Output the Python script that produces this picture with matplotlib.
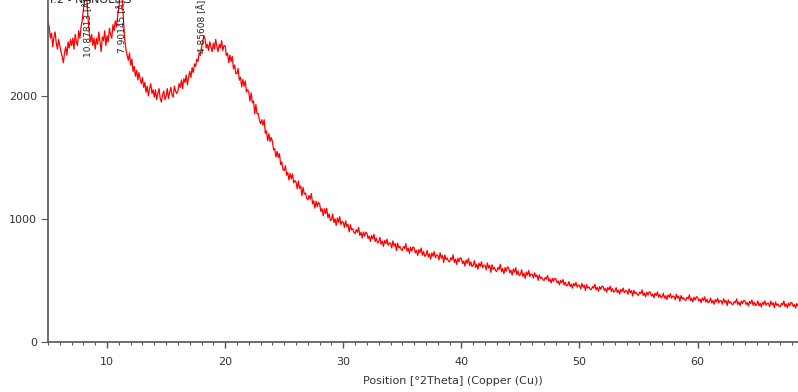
import numpy as np
import matplotlib
matplotlib.use('Agg')
import matplotlib.pyplot as plt
from matplotlib.ticker import MultipleLocator

# counts, one row per degree (step 0.1 deg, 5.0 .. 68.5)
counts = [
    2600, 2560, 2470, 2510, 2400, 2480, 2520, 2430, 2380, 2460,  # 5
    2410, 2360, 2320, 2270, 2350, 2400, 2330, 2440, 2390, 2460,  # 6
    2410, 2470, 2380, 2500, 2440, 2410, 2530, 2470, 2560, 2620,  # 7
    2700, 2790, 2870, 2760, 2620, 2510, 2440, 2500, 2410, 2470,  # 8
    2380, 2470, 2420, 2520, 2440, 2360, 2480, 2450, 2530, 2410,  # 9
    2490, 2440, 2550, 2500, 2470, 2580, 2530, 2610, 2560, 2650,  # 10
    2720, 2810, 2870, 2780, 2600, 2450, 2380, 2330, 2290, 2350,  # 11
    2250, 2300, 2200, 2240, 2160, 2210, 2130, 2190, 2140, 2100,  # 12
    2150, 2070, 2110, 2030, 2080, 2000, 2060, 2100, 2020, 2050,  # 13
    1990, 2050, 1970, 2020, 2060, 1980, 1950, 2010, 2040, 1970,  # 14
    2000, 2060, 1980, 2030, 2070, 2010, 1990, 2080, 2040, 2020,  # 15
    2040, 2100, 2070, 2130, 2060, 2140, 2110, 2170, 2090, 2150,  # 16
    2200, 2150, 2230, 2190, 2260, 2240, 2300, 2280, 2350, 2330,  # 17
    2400, 2440, 2490, 2460, 2390, 2420, 2370, 2440, 2400, 2360,  # 18
    2430, 2380, 2460, 2400, 2360, 2420, 2390, 2450, 2370, 2410,  # 19
    2406, 2329, 2348, 2271, 2332, 2279, 2322, 2221, 2252, 2181,  # 20
    2182, 2224, 2128, 2152, 2074, 2134, 2080, 2122, 2032, 2050,  # 21
    2032, 1957, 2026, 1945, 1960, 1855, 1930, 1855, 1858, 1801,  # 22
    1774, 1807, 1762, 1807, 1696, 1717, 1636, 1693, 1630, 1663,  # 23
    1630, 1561, 1572, 1503, 1549, 1500, 1531, 1442, 1463, 1399,  # 24
    1395, 1433, 1356, 1379, 1317, 1370, 1328, 1366, 1294, 1312,  # 25
    1300, 1245, 1309, 1249, 1268, 1188, 1257, 1202, 1211, 1171,  # 26
    1155, 1191, 1161, 1207, 1122, 1148, 1088, 1144, 1099, 1135,  # 27
    1120, 1062, 1084, 1026, 1083, 1045, 1087, 1009, 1041, 988,  # 28
    995, 1041, 971, 1002, 947, 1008, 973, 1019, 954, 980,  # 29
    973, 931, 985, 939, 957, 895, 953, 911, 921, 891,  # 30
    881, 913, 892, 932, 867, 891, 846, 894, 861, 893,  # 31
    884, 841, 861, 818, 866, 839, 875, 816, 844, 805,  # 32
    813, 850, 795, 820, 777, 826, 799, 836, 785, 806,  # 33
    803, 764, 822, 779, 800, 742, 803, 764, 777, 751,  # 34
    744, 777, 759, 800, 738, 763, 720, 770, 739, 773,  # 35
    766, 724, 745, 703, 752, 726, 764, 705, 735, 696,  # 36
    706, 744, 690, 716, 674, 724, 697, 735, 685, 707,  # 37
    705, 667, 725, 682, 704, 646, 708, 670, 683, 657,  # 38
    651, 685, 667, 709, 647, 673, 631, 681, 651, 685,  # 39
    679, 637, 659, 617, 667, 641, 679, 621, 651, 613,  # 40
    623, 661, 607, 633, 591, 641, 615, 653, 603, 625,  # 41
    623, 585, 643, 602, 624, 566, 628, 590, 605, 579,  # 42
    573, 607, 590, 632, 570, 597, 555, 605, 575, 610,  # 43
    604, 562, 584, 543, 593, 567, 605, 547, 578, 540,  # 44
    550, 588, 534, 560, 518, 569, 543, 581, 531, 553,  # 45
    549, 520, 562, 530, 545, 501, 546, 517, 526, 506,  # 46
    500, 525, 510, 541, 494, 513, 480, 517, 494, 518,  # 47
    513, 481, 496, 464, 501, 481, 508, 464, 486, 456,  # 48
    463, 491, 451, 470, 438, 476, 456, 484, 446, 463,  # 49
    461, 433, 477, 445, 462, 419, 466, 438, 448, 429,  # 50
    425, 451, 438, 470, 424, 444, 412, 450, 428, 454,  # 51
    450, 419, 436, 405, 443, 424, 453, 410, 433, 405,  # 52
    413, 442, 402, 421, 390, 428, 409, 438, 400, 417,  # 53
    416, 388, 432, 400, 417, 374, 421, 393, 403, 384,  # 54
    380, 406, 393, 424, 378, 398, 367, 405, 382, 408,  # 55
    404, 373, 390, 359, 397, 378, 407, 364, 387, 359,  # 56
    367, 396, 356, 376, 345, 383, 364, 393, 356, 373,  # 57
    372, 344, 388, 357, 374, 331, 378, 350, 361, 342,  # 58
    338, 364, 351, 383, 337, 357, 326, 364, 342, 368,  # 59
    364, 333, 350, 319, 357, 338, 367, 324, 347, 319,  # 60
    328, 357, 317, 338, 307, 345, 326, 355, 318, 336,  # 61
    335, 307, 352, 321, 338, 296, 343, 315, 327, 308,  # 62
    304, 330, 318, 350, 305, 325, 295, 333, 312, 338,  # 63
    335, 305, 322, 292, 330, 312, 342, 299, 323, 295,  # 64
    304, 334, 294, 315, 284, 323, 305, 334, 298, 315,  # 65
    315, 288, 332, 302, 319, 277, 325, 297, 309, 290,  # 66
    287, 314, 301, 334, 288, 309, 278, 317, 295, 322,  # 67
    318, 288, 305, 275, 313, 295,  # 68
]
two_theta = np.round(5.0 + 0.1 * np.arange(len(counts)), 1)

peak_pos = [8.4, 11.3, 18.05]
peak_base = [2317, 2350, 2350]
peak_text = ['10.87813 [Å]', '7.90145 [Å]', '4.85608 [Å]']

fig = plt.figure(figsize=(7.98, 3.92), dpi=100)
ax = fig.add_axes([48 / 798, 50 / 392, 750 / 798, 342 / 392])

ax.plot(two_theta, counts, color='#ff0000', lw=0.9)

for x, y, t in zip(peak_pos, peak_base, peak_text):
    ax.text(x, y, t, rotation=90, ha='center', va='bottom', fontsize=6.5,
            color='#222222', clip_on=False)

fig.text(50 / 798, 1.0, 'I.2 - NANOLIPS', ha='left', va='center', fontsize=8, color='#222222')

ax.set_xlim(5, 68.5)
ax.set_ylim(0, 2780)
ax.spines['top'].set_visible(False)
ax.spines['right'].set_visible(False)
for s in ('left', 'bottom'):
    ax.spines[s].set_color('#555555')
    ax.spines[s].set_linewidth(1.2)

ax.xaxis.set_major_locator(MultipleLocator(10))
ax.xaxis.set_minor_locator(MultipleLocator(1))
ax.yaxis.set_major_locator(MultipleLocator(1000))
ax.tick_params(axis='both', which='major', labelsize=8, labelcolor='#333333', color='#555555')
ax.tick_params(axis='x', which='major', length=4.5, width=1, pad=6.5)
ax.tick_params(axis='x', which='minor', length=2.2, width=0.8, color='#555555')
ax.tick_params(axis='y', which='major', length=5, width=0.8, pad=3)

ax.set_xlabel('Position [°2Theta] (Copper (Cu))', fontsize=8, color='#333333')
ax.xaxis.label.set_va('center')
ax.xaxis.set_label_coords(0.54, -0.114)

fig.savefig('out.png', dpi=100)
